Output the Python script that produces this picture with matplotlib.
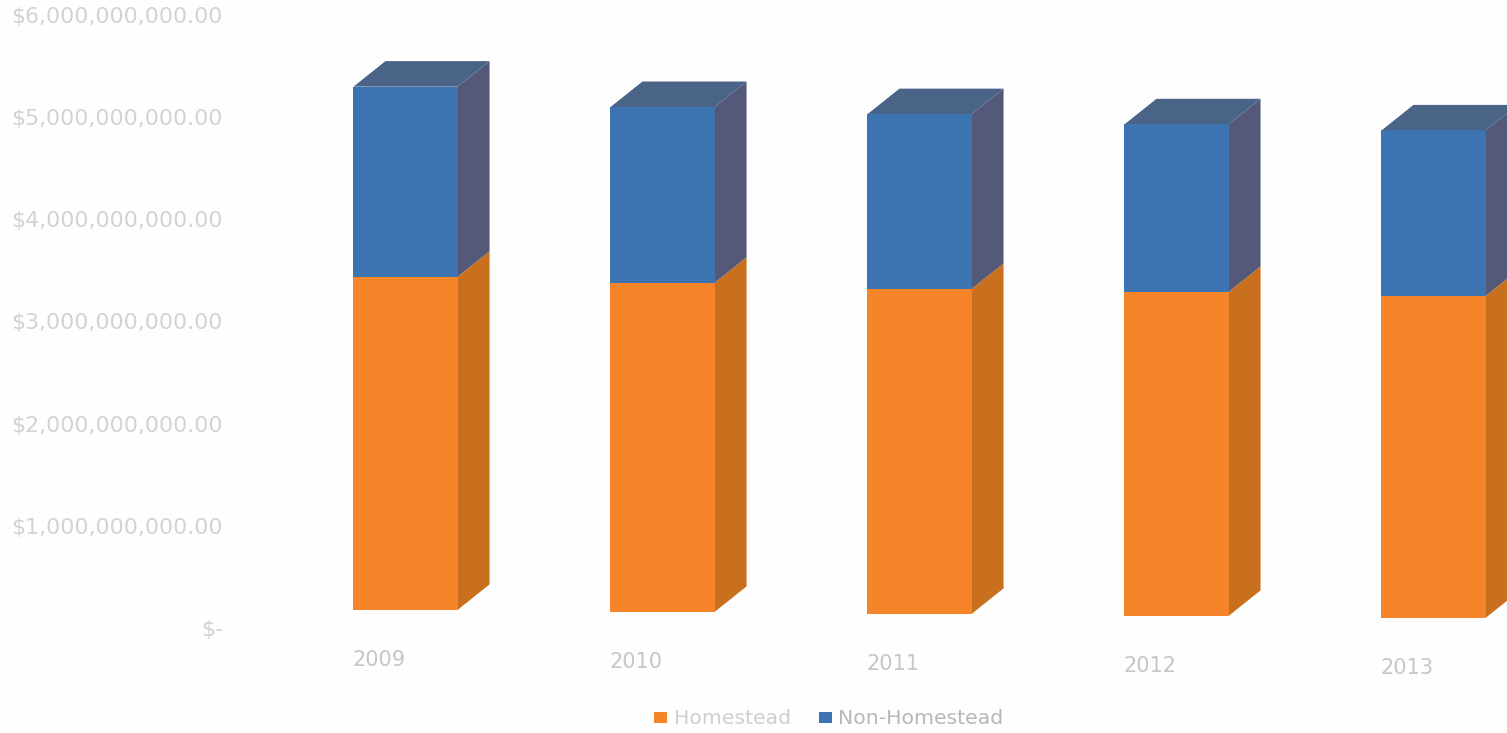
import numpy as np
import matplotlib
matplotlib.use('Agg')
import matplotlib.pyplot as plt
from matplotlib.patches import Polygon, Rectangle

years = ['2009', '2010', '2011', '2012', '2013']
homestead = [3.26e9, 3.22e9, 3.18e9, 3.17e9, 3.15e9]
non_homestead = [1.86e9, 1.72e9, 1.71e9, 1.64e9, 1.62e9]
y_ticks = [0, 1e9, 2e9, 3e9, 4e9, 5e9, 6e9]
y_labels = ['$-', '$1,000,000,000.00', '$2,000,000,000.00', '$3,000,000,000.00',
            '$4,000,000,000.00', '$5,000,000,000.00', '$6,000,000,000.00']

# look of the fake 3d box and the scan tilt
bar_w = 0.405
depth_x = 0.1245
depth_y = 0.25e9
floor = 0.196e9
tilt = 0.0196e9

orange = ('#F58528', '#C9701F', '#E07A22')
blue = ('#3B74B0', '#54597A', '#4A6488')

plt.rcParams['font.family'] = ['DejaVu Sans']

fig = plt.figure(figsize=(15.07, 7.33), dpi=100, facecolor='#FEFEFE')
ax = fig.add_axes([0, 0, 1, 1])
ax.set_xlim(-1.578, 4.286)
ax.set_ylim(-1.008e9, 6.164e9)
ax.axis('off')


def box(x, y0, y1, cols, top=False):
    # front, side and (only for the last segment) top face
    l, r = x - bar_w / 2, x + bar_w / 2
    ax.add_patch(Polygon([(r, y0), (r + depth_x, y0 + depth_y), (r + depth_x, y1 + depth_y), (r, y1)],
                         fc=cols[1], ec='none', zorder=2))
    ax.add_patch(Rectangle((l, y0), bar_w, y1 - y0, fc=cols[0], ec='none', zorder=3))
    if top:
        ax.add_patch(Polygon([(l, y1), (l + depth_x, y1 + depth_y), (r + depth_x, y1 + depth_y), (r, y1)],
                             fc=cols[2], ec='none', zorder=2))


for i, yr in enumerate(years):
    base = floor - tilt * i
    box(i, base, base + homestead[i], orange)
    box(i, base + homestead[i], base + homestead[i] + non_homestead[i], blue, top=True)
    ax.text(i - 0.103, -0.29e9 - tilt * i, yr, ha='center', va='center',
            fontsize=15, color='#C6C6C6')

for v, lab in zip(y_ticks, y_labels):
    ax.text(-0.711, v, lab, ha='right', va='center', fontsize=15.8, color='#D2D2D2')

# legend
ax.add_patch(Rectangle((0.967, -0.915e9), 0.05, 0.115e9, fc=orange[0], ec='none'))
ax.text(1.045, -0.87e9, 'Homestead', ha='left', va='center', fontsize=14.7, color='#CFCFCF')
ax.add_patch(Rectangle((1.609, -0.915e9), 0.05, 0.115e9, fc=blue[0], ec='none'))
ax.text(1.683, -0.87e9, 'Non-Homestead', ha='left', va='center', fontsize=14.7, color='#B8B8B8')

fig.savefig('out.png', dpi=100, facecolor=fig.get_facecolor())
